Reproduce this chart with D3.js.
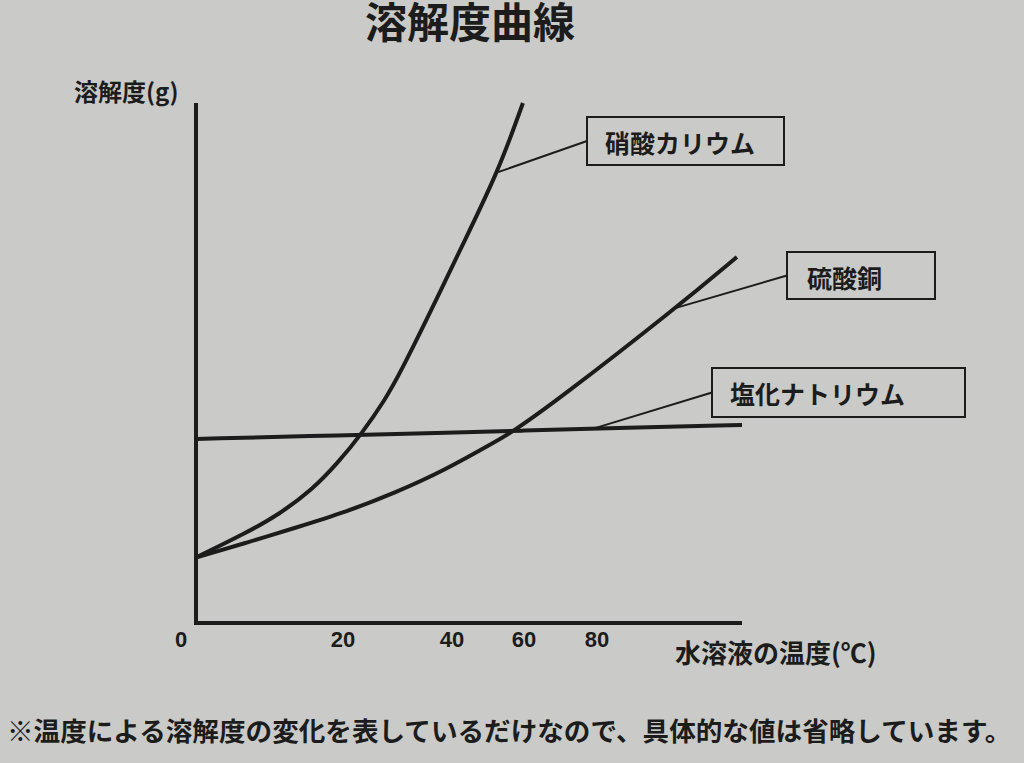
<!DOCTYPE html>
<html lang="ja">
<head>
<meta charset="utf-8">
<title>溶解度曲線</title>
<script src="https://cdn.jsdelivr.net/npm/d3@7"></script>
<style>
  html, body { margin: 0; padding: 0; background: #cacbc8; }
  svg { display: block; }
  text { font-family: "Noto Sans CJK JP", "Noto Sans", sans-serif; fill: #1c1c1c; }
  .num { font-family: "Liberation Sans", Arial, sans-serif; }
</style>
</head>
<body>
<svg id="chart" width="1024" height="763"></svg>
<script>

// temperature ticks as printed (spacing on the sheet is not even)
var tickLabels = ["0", "20", "40", "60", "80"];
var tickValues = [0, 20, 40, 60, 80];

// solubility curves, relative units (values omitted on the sheet)
var kno3Temp  = [0, 6.8, 11.2, 15.8, 19.3, 23.5, 27.7, 30.5, 36.5, 42.2, 52.8, 59.7];
var kno3Sol   = [12.6, 17.3, 20.8, 25.6, 30.8, 36.5, 42.9, 48.1, 60.8, 71.7, 86.7, 100];

var cuso4Temp = [0, 6.8, 13.5, 20.4, 29.5, 38.7, 51.9, 56.7, 69.3, 101.8, 118.6];
var cuso4Sol  = [12.6, 15.4, 18.3, 21.3, 25, 29.4, 34.8, 36.7, 42.9, 60.6, 70.4];

var naclTemp  = [0, 20, 40, 60, 80, 120];
var naclSol   = [35.4, 36.1, 36.6, 37.0, 37.4, 38.1];

var seriesNames = ["硝酸カリウム", "硫酸銅", "塩化ナトリウム"];
// where each leader line touches its curve
var leaderTemp  = [52.8, 101.8, 79];

var svg = d3.select("#chart");

// x scale is piecewise so that the printed tick labels land where they are on the sheet
var x = d3.scaleLinear()
    .domain([0, 20, 40, 60, 80, 120])
    .range([196, 343, 452, 524, 597, 742]);

var y = d3.scaleLinear()
    .domain([0, 100])
    .range([623, 103]);

function zip(xs, ys) { return xs.map(function(d, i) { return [d, ys[i]]; }); }

var series = [zip(kno3Temp, kno3Sol), zip(cuso4Temp, cuso4Sol), zip(naclTemp, naclSol)];

// basis spline smooths the hand-read points into one even curve
var line = d3.line()
    .x(function(d) { return x(d[0]); })
    .y(function(d) { return y(d[1]); })
    .curve(d3.curveBasis);

// title
svg.append("text")
    .attr("x", 470).attr("y", 38)
    .attr("text-anchor", "middle")
    .style("font-size", "42px").style("font-weight", "bold")
    .text("溶解度曲線");

// y axis label
svg.append("text")
    .attr("x", 74).attr("y", 101)
    .style("font-size", "24px").style("font-weight", "bold")
    .text("溶解度(g)");

// axes (plain lines, no tick marks)
svg.append("line")
    .attr("x1", x(0)).attr("x2", x(0))
    .attr("y1", y(100)).attr("y2", y(0) + 2)
    .attr("stroke", "#1c1c1c").attr("stroke-width", 4);

svg.append("line")
    .attr("x1", x(0) - 2).attr("x2", x(120))
    .attr("y1", y(0)).attr("y2", y(0))
    .attr("stroke", "#1c1c1c").attr("stroke-width", 4);

// tick labels
svg.selectAll(".tick-label")
  .data(tickValues)
  .enter().append("text")
    .attr("class", "tick-label num")
    .attr("x", function(d) { return d === 0 ? x(d) - 15 : x(d); })
    .attr("y", 647)
    .attr("text-anchor", "middle")
    .style("font-size", "22px").style("font-weight", "bold")
    .text(function(d, i) { return tickLabels[i]; });

svg.append("text")
    .attr("x", 675).attr("y", 663)
    .style("font-size", "26px").style("font-weight", "600")
    .text("水溶液の温度(℃)");

// curves
svg.selectAll(".curve")
  .data(series)
  .enter().append("path")
    .attr("class", "curve")
    .attr("d", line)
    .attr("fill", "none")
    .attr("stroke", "#1c1c1c")
    .attr("stroke-width", 4);

// label boxes with leader lines
var boxes = [
  {x: 587, y: 117, w: 197, h: 48, tx: 605, ty: 153},
  {x: 787, y: 252, w: 148, h: 47, tx: 807, ty: 288},
  {x: 712, y: 368, w: 253, h: 49, tx: 730, ty: 404}
];

function valueAt(s, t) {
  var xs = series[s].map(function(d) { return d[0]; }),
      ys = series[s].map(function(d) { return d[1]; });
  return d3.scaleLinear().domain(xs).range(ys)(t);
}

var labels = svg.selectAll(".label")
  .data(seriesNames)
  .enter().append("g")
    .attr("class", "label");

labels.append("line")
    .attr("x1", function(d, i) { return x(leaderTemp[i]); })
    .attr("y1", function(d, i) { return y(valueAt(i, leaderTemp[i])); })
    .attr("x2", function(d, i) { return boxes[i].x; })
    .attr("y2", function(d, i) { return boxes[i].y + boxes[i].h / 2; })
    .attr("stroke", "#1c1c1c").attr("stroke-width", 2);

labels.append("rect")
    .attr("x", function(d, i) { return boxes[i].x; })
    .attr("y", function(d, i) { return boxes[i].y; })
    .attr("width", function(d, i) { return boxes[i].w; })
    .attr("height", function(d, i) { return boxes[i].h; })
    .attr("fill", "none")
    .attr("stroke", "#1c1c1c").attr("stroke-width", 2);

labels.append("text")
    .attr("x", function(d, i) { return boxes[i].tx; })
    .attr("y", function(d, i) { return boxes[i].ty; })
    .style("font-size", "25px").style("font-weight", "600")
    .text(function(d) { return d; });

// footnote
svg.append("text")
    .attr("x", 7).attr("y", 741)
    .style("font-size", "26.6px").style("font-weight", "600")
    .text("※温度による溶解度の変化を表しているだけなので、具体的な値は省略しています。");

</script>
</body>
</html>
